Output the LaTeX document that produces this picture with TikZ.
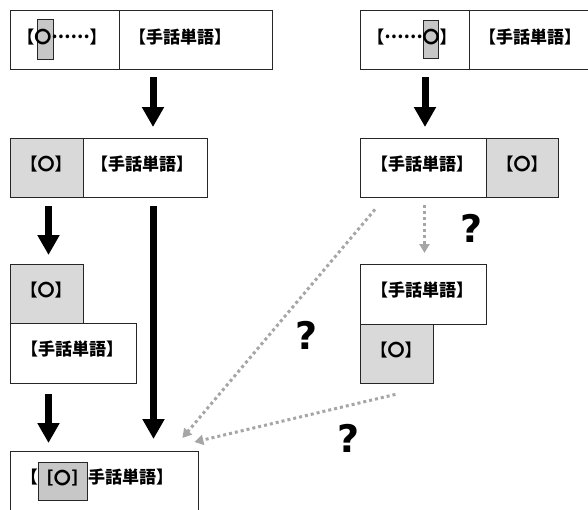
\documentclass[tikz,border=0pt]{standalone}
\usepackage{fontspec}
\usetikzlibrary{arrows.meta,calc}
\newfontfamily\jpfont{Noto Sans CJK JP}
\newfontfamily\qfont{DejaVu Sans}
% ellipsis lifted to the middle of the ideographic box
\newcommand{\cdotsjp}{\raisebox{0.3em}{……}}
\begin{document}
\begin{tikzpicture}[x=1pt,y=-1pt,
  cell/.style={draw=black!85, line width=1.4pt, fill=white, inner sep=0pt,
    anchor=north west, minimum width=#1},
  gcell/.style={cell=#1, fill=black!15},
  hilite/.style={draw=black!85, line width=1pt, fill=black!22, inner sep=0pt, anchor=north west},
  txt/.style={inner sep=0pt, text height=0.88em, text depth=0.12em,
    font=\jpfont\bfseries\fontsize{17}{17}\selectfont},
  qmark/.style={inner sep=0pt, font=\qfont\bfseries\fontsize{38}{38}\selectfont},
  bigarrow/.style={draw=black, line width=7pt, -{Triangle[width=21pt,length=20pt]}},
  dotarrow/.style={draw=black!35, line width=3pt, dash pattern=on 3pt off 3pt,
    -{Triangle[width=10pt,length=9pt]}},
]
\path[use as bounding box] (0,0) rectangle (588,509);
\clip (0,0) rectangle (588,509);

% top row, left: marker at the start
\node[cell=109pt, minimum height=59pt] (tlA) at (10,10) {};
\node[cell=153pt, minimum height=59pt] (tlB) at (119,10) {};
\node[hilite, minimum width=16pt, minimum height=40pt] (tlM) at (37,19) {};
\node[txt] (tlAt) at (62,40) {【〇\cdotsjp】};
\node[txt] (tlBt) at (180,40) {【手話単語】};

% top row, right: marker at the end
\node[cell=109pt, minimum height=59pt] (trA) at (360,10) {};
\node[cell=153pt, minimum height=59pt] (trB) at (469,10) {};
\node[hilite, minimum width=15pt, minimum height=38pt] (trM) at (423,20) {};
\node[txt] (trAt) at (412,40) {【\cdotsjp〇】};
\node[txt] (trBt) at (530,40) {【手話単語】};

% second row
\node[gcell=73pt, minimum height=59pt] (r2lA) at (10,138) {};
\node[cell=124pt, minimum height=59pt] (r2lB) at (83,138) {};
\node[txt] (r2lAt) at (46,167) {【〇】};
\node[txt] (r2lBt) at (142,167) {【手話単語】};

\node[cell=126pt, minimum height=59pt] (r2rA) at (360,138) {};
\node[gcell=72pt, minimum height=59pt] (r2rB) at (486,138) {};
\node[txt] (r2rAt) at (422,167) {【手話単語】};
\node[txt] (r2rBt) at (522,167) {【〇】};

% third row, stacked
\node[gcell=73pt, minimum height=59pt] (r3lA) at (10,264) {};
\node[cell=126pt, minimum height=60pt] (r3lB) at (10,323) {};
\node[txt] (r3lAt) at (46,293) {【〇】};
\node[txt] (r3lBt) at (72,352) {【手話単語】};

\node[cell=126pt, minimum height=60pt] (r3rA) at (360,264) {};
\node[gcell=73pt, minimum height=59pt] (r3rB) at (360,324) {};
\node[txt] (r3rAt) at (422,293) {【手話単語】};
\node[txt] (r3rBt) at (396,353) {【〇】};

% result
\node[cell=188pt, minimum height=70pt] (bt) at (10,451) {};
\node[hilite, minimum width=49pt, minimum height=38pt] (btM) at (38,462) {};
\node[txt, anchor=east] (btL) at (38,480) {【};
\node[txt] (btMt) at (62.5,481) {［\kern1pt〇\kern1pt］};
\node[txt, anchor=west] (btR) at (88,480) {手話単語】};

% solid arrows
\draw[bigarrow] ($(tlB.south west)+(34,7)$) -- ($(r2lB.north west)+(70,-11)$);
\draw[bigarrow] ($(trA.south west)+(65,7)$) -- ($(r2rA.north west)+(65,-11)$);
\draw[bigarrow] ($(r2lA.south west)+(38.5,8)$) -- ($(r3lA.north west)+(38.5,-9)$);
\draw[bigarrow] ($(r2lB.south west)+(70.5,8)$) -- ($(bt.north west)+(143.5,-12)$);
\draw[bigarrow] ($(r3lB.south west)+(38.5,10)$) -- ($(bt.north west)+(38.5,-8)$);

% uncertain paths
\draw[dotarrow] ($(r2rA.south west)+(15,11)$) -- ($(bt.north east)+(-17,-13)$);
\draw[dotarrow] ($(r2rA.south west)+(64.5,7)$) -- ($(r3rA.north west)+(64.5,-11)$);
\draw[dotarrow] ($(r3rB.south east)+(-39,10)$) -- ($(bt.north east)+(-5,-9)$);

\node[qmark] (q1) at (472,228) {?};
\node[qmark] (q2) at (307,335) {?};
\node[qmark] (q3) at (349,438) {?};
\end{tikzpicture}
\end{document}
